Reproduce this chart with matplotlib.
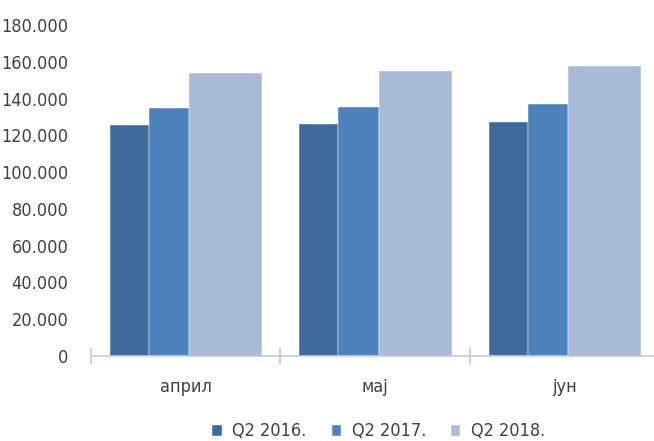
import numpy as np
from matplotlib import pyplot as plt
from matplotlib import font_manager
from matplotlib.ticker import FuncFormatter

months = ['април', 'мај', 'јун']
series = ['Q2 2016.', 'Q2 2017.', 'Q2 2018.']
q2_2016 = [125400, 126400, 127200]
q2_2017 = [134800, 135400, 137200]
q2_2018 = [153700, 154800, 157700]
colors = ['#3F6A9C', '#4F81BD', '#AABAD7']

# look for a condensed face (the original uses a condensed font)
cond = None
for f in font_manager.fontManager.ttflist:
    tag = (f.name + ' ' + f.fname).lower()
    if ('condensed' in tag or 'narrow' in tag) and f.weight in (400, 'normal', 'regular') \
            and f.style == 'normal' and 'mono' not in tag:
        cond = f.fname
        break

if cond:
    fp = font_manager.FontProperties(fname=cond, size=13)
else:
    fp = font_manager.FontProperties(family='Roboto', size=12)

values = [q2_2016, q2_2017, q2_2018]
# bar left offsets and widths inside a category (the last bar is wider)
lefts = [-0.40, -0.195, 0.02]
widths = [0.205, 0.215, 0.385]

fig = plt.figure(figsize=(6.54, 4.41), dpi=100)
ax = fig.add_axes([0.1387, 0.1927, 0.8693, 0.7506])

x = np.arange(len(months))
for vals, left, w, c, name in zip(values, lefts, widths, colors, series):
    ax.bar(x + left, vals, width=w, align='edge', color=c, label=name,
           edgecolor='white', linewidth=0.3)

ax.set_xlim(-0.5, 2.5)
ax.set_ylim(0, 180000)
ax.set_yticks(np.arange(0, 180001, 20000))
ax.yaxis.set_major_formatter(FuncFormatter(lambda v, p: f'{int(v):,}'.replace(',', '.')))

for s in ['top', 'right', 'left']:
    ax.spines[s].set_visible(False)
ax.spines['bottom'].set_color('#B9CDE5')
ax.spines['bottom'].set_linewidth(1.2)

ax.set_xticks(x)
ax.set_xticklabels(months)
ax.set_xticks(np.arange(-0.5, 2.6, 1), minor=True)
ax.tick_params(axis='x', which='major', length=0, pad=16, labelcolor='#404040')
ax.tick_params(axis='x', which='minor', direction='inout', length=11, width=1.2, color='#B9CDE5')
ax.tick_params(axis='y', length=0, pad=16, labelcolor='#404040')
for lab in ax.get_xticklabels() + ax.get_yticklabels():
    lab.set_fontproperties(fp)

fig.legend(loc='center', bbox_to_anchor=(379 / 654, 1 - 431.5 / 441), ncol=3, frameon=False,
           prop=fp, labelcolor='#404040', handlelength=0.5, handleheight=0.55,
           handletextpad=0.6, columnspacing=1.4)

fig.savefig('out.png', dpi=100)
